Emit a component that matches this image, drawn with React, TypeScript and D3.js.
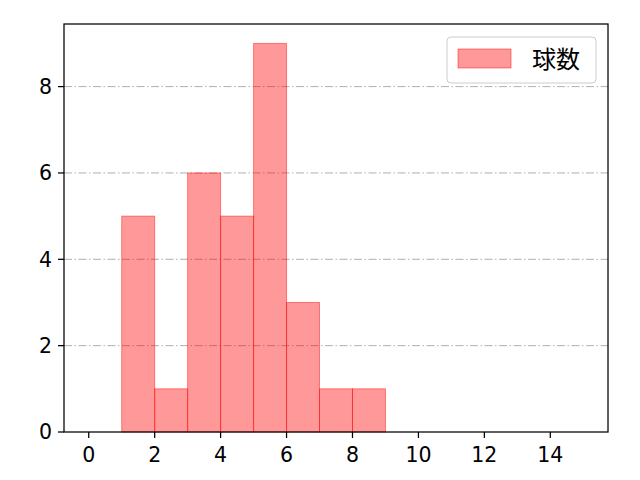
import React from 'react';
import * as d3 from 'd3';

const binEdges = [1, 2, 3, 4, 5, 6, 7, 8, 9];
const counts = [5, 1, 6, 5, 9, 3, 1, 1];
const xTicks = [0, 2, 4, 6, 8, 10, 12, 14];
const yTicks = [0, 2, 4, 6, 8];
const seriesName = '球数';

const W = 640;
const H = 480;
const margin = { top: 24, right: 32, bottom: 48, left: 64 };
const FONT = '"Noto Sans CJK JP", "Noto Sans", sans-serif';
const NUM_FONT = '"DejaVu Sans", sans-serif';

export default function App() {
  const x = d3.scaleLinear().domain([-0.75, 15.75]).range([margin.left, W - margin.right]);
  const y = d3.scaleLinear().domain([0, 9.45]).range([H - margin.bottom, margin.top]);
  const bins = counts.map((c, i) => ({ x0: binEdges[i], x1: binEdges[i + 1], c }));
  const x0 = margin.left;
  const x1 = W - margin.right;
  const y0 = H - margin.bottom;
  const y1 = margin.top;

  return (
    <svg width={W} height={H} style={{ position: 'absolute', left: 0, top: 0, fontFamily: FONT }}>
      <rect width={W} height={H} fill="#fff" />
      {yTicks.filter(t => t > 0).map(t => (
        <line key={t} x1={x0} x2={x1} y1={y(t)} y2={y(t)} stroke="#b0b0b0" strokeWidth={1}
          strokeDasharray="8,2.5,1.5,2.5" />
      ))}
      {bins.map((b, i) => (
        <rect key={i} x={x(b.x0)} y={y(b.c)} width={x(b.x1) - x(b.x0)} height={y(0) - y(b.c)}
          fill="rgba(255,0,0,0.4)" stroke="rgba(255,0,0,0.45)" strokeWidth={1} />
      ))}
      <rect x={x0} y={y1} width={x1 - x0} height={y0 - y1} fill="none" stroke="#000" strokeWidth={1.25} />
      <g fontFamily={NUM_FONT} fontSize={20.5}>
        {xTicks.map(t => (
          <g key={t}>
            <line x1={x(t)} x2={x(t)} y1={y0} y2={y0 + 6} stroke="#000" strokeWidth={1.25} />
            <text x={x(t)} y={y0 + 23} dy="0.36em" textAnchor="middle">{t}</text>
          </g>
        ))}
        {yTicks.map(t => (
          <g key={t}>
            <line x1={x0 - 6} x2={x0} y1={y(t)} y2={y(t)} stroke="#000" strokeWidth={1.25} />
            <text x={x0 - 12} y={y(t)} dy="0.36em" textAnchor="end">{t}</text>
          </g>
        ))}
      </g>
      <g>
        <rect x={447} y={37} width={149} height={46} rx={4} fill="#fff" fillOpacity={0.8} stroke="#ccc" strokeWidth={1} />
        <rect x={458} y={49} width={53} height={19} fill="rgba(255,0,0,0.4)" stroke="rgba(255,0,0,0.45)" />
        <text x={532} y={59} dy="0.36em" fontSize={24}>{seriesName}</text>
      </g>
    </svg>
  );
}
